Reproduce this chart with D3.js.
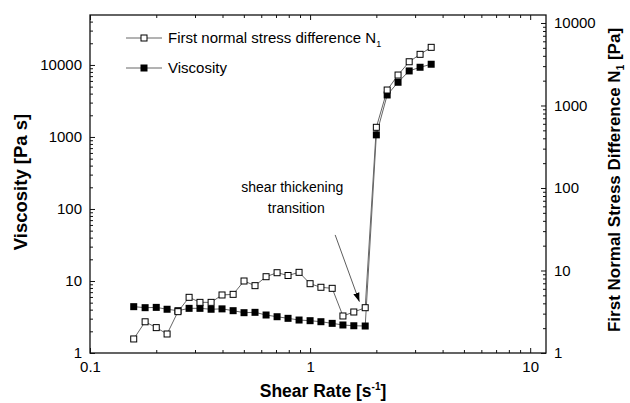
<!DOCTYPE html>
<html>
<head>
<meta charset="utf-8">
<script src="https://cdn.jsdelivr.net/npm/d3@7"></script>
<style>
  body { margin: 0; background: #fff; }
  svg text { font-family: "Liberation Sans", Arial, sans-serif; fill: #000; }
</style>
</head>
<body>
<svg id="chart" width="630" height="403"></svg>
<script>
// Shear rate [1/s] of each measured point
const shearRate = [0.158, 0.178, 0.2, 0.224, 0.251, 0.282, 0.316, 0.355, 0.398, 0.447,
  0.501, 0.562, 0.631, 0.708, 0.794, 0.891, 1.0, 1.12, 1.26, 1.41,
  1.58, 1.78, 2.0, 2.24, 2.51, 2.82, 3.16, 3.55];

// Viscosity [Pa s], left axis
const viscosity = [4.4, 4.26, 4.3, 4.05, 3.87, 4.17, 4.17, 4.05, 4.1, 3.87,
  3.63, 3.67, 3.37, 3.19, 3.03, 2.87, 2.81, 2.72, 2.58, 2.45,
  2.39, 2.37, 1070, 3830, 5750, 8260, 9290, 10230];

// First normal stress difference N1 [Pa], right axis
const normalStress = [1.48, 2.39, 2.03, 1.7, 3.17, 4.73, 4.11, 4.11, 5.05, 5.14,
  7.46, 6.55, 8.41, 9.4, 8.7, 9.5, 6.92, 6.26, 6.08, 2.81,
  3.14, 3.54, 544, 1540, 2340, 3390, 4170, 5070];

const svg = d3.select('#chart');
const plotL = 90, plotR = 546, plotT = 15, plotB = 353;

const x = d3.scaleLog().domain([0.1, 11.8]).range([plotL, plotR]);
const yL = d3.scaleLog().domain([1, 49400]).range([plotB, plotT]);
const yR = d3.scaleLog().domain([1, 12500]).range([plotB, plotT]);

const isMajor = d => Math.abs(Math.log10(d) - Math.round(Math.log10(d))) < 1e-6;

// draws an axis with inward ticks, long for decades, short for the rest
function drawAxis(axisFn, scale, transform, labels, sign) {
  const ax = axisFn(scale)
    .tickValues(scale.ticks())
    .tickSizeOuter(0)
    .tickSize(0)
    .tickPadding(labels ? 8 : 0)
    .tickFormat(d => (labels && isMajor(d)) ? d3.format('~g')(d) : '');
  const g = svg.append('g').attr('transform', transform).call(ax);
  g.select('.domain').remove();
  const horizontal = axisFn === d3.axisBottom || axisFn === d3.axisTop;
  g.selectAll('.tick line')
    .attr(horizontal ? 'y2' : 'x2', d => sign * (isMajor(d) ? 5 : 3))
    .attr('stroke', '#111')
    .attr('stroke-width', 1);
  g.selectAll('.tick text').attr('font-size', 15).attr('font-family', '"Liberation Sans", Arial, sans-serif');
  return g;
}

drawAxis(d3.axisBottom, x, `translate(0,${plotB})`, true, -1);
drawAxis(d3.axisTop, x, `translate(0,${plotT})`, false, 1);
drawAxis(d3.axisLeft, yL, `translate(${plotL},0)`, true, 1);
drawAxis(d3.axisRight, yR, `translate(${plotR},0)`, true, -1);

// frame
svg.append('rect')
  .attr('x', plotL).attr('y', plotT)
  .attr('width', plotR - plotL).attr('height', plotB - plotT)
  .attr('fill', 'none').attr('stroke', '#111').attr('stroke-width', 1.3);

// series
const pts = shearRate.map((s, i) => ({ s, v: viscosity[i], n: normalStress[i] }));

const lineN = d3.line().x(d => x(d.s)).y(d => yR(d.n));
const lineV = d3.line().x(d => x(d.s)).y(d => yL(d.v));

svg.append('path').datum(pts).attr('d', lineN)
  .attr('fill', 'none').attr('stroke', '#666').attr('stroke-width', 1);
svg.append('path').datum(pts).attr('d', lineV)
  .attr('fill', 'none').attr('stroke', '#666').attr('stroke-width', 1);

const sq = 7;
svg.append('g').selectAll('rect')
  .data(pts).enter().append('rect')
  .attr('x', d => x(d.s) - sq / 2)
  .attr('y', d => yL(d.v) - sq / 2)
  .attr('width', sq).attr('height', sq)
  .attr('fill', '#000');

svg.append('g').selectAll('rect')
  .data(pts).enter().append('rect')
  .attr('x', d => x(d.s) - sq / 2 + 0.5)
  .attr('y', d => yR(d.n) - sq / 2 + 0.5)
  .attr('width', sq - 1).attr('height', sq - 1)
  .attr('fill', '#fff').attr('stroke', '#000').attr('stroke-width', 1);

// legend
const legend = [
  { label: 'First normal stress difference N', sub: '1', filled: false, y: 38 },
  { label: 'Viscosity', sub: '', filled: true, y: 68 }
];
legend.forEach(l => {
  svg.append('line').attr('x1', 126).attr('x2', 162).attr('y1', l.y).attr('y2', l.y)
    .attr('stroke', '#666').attr('stroke-width', 1);
  svg.append('rect').attr('x', 144 - 3.5 + (l.filled ? 0 : 0.5)).attr('y', l.y - 3.5 + (l.filled ? 0 : 0.5))
    .attr('width', l.filled ? 7 : 6).attr('height', l.filled ? 7 : 6)
    .attr('fill', l.filled ? '#000' : '#fff').attr('stroke', l.filled ? 'none' : '#000');
  const t = svg.append('text').attr('x', 168).attr('y', l.y + 5).attr('font-size', 15).text(l.label);
  if (l.sub) t.append('tspan').attr('font-size', 9).attr('dy', 4).text(l.sub);
});

// annotation
const ann = { tx: 0.83, ty1: 172, ty2: 88, ax1: 1.3, ay1: 43.6, ax2: 1.675, ay2: 5.16 };
svg.append('text').attr('x', x(ann.tx)).attr('y', yL(ann.ty1)).attr('text-anchor', 'middle')
  .attr('font-size', 14).text('shear thickening');
svg.append('text').attr('x', x(ann.tx) + 4).attr('y', yL(ann.ty2)).attr('text-anchor', 'middle')
  .attr('font-size', 14).text('transition');

svg.append('defs').append('marker')
  .attr('id', 'arrow').attr('viewBox', '0 0 10 10').attr('refX', 10).attr('refY', 5)
  .attr('markerWidth', 9).attr('markerHeight', 9).attr('markerUnits', 'userSpaceOnUse')
  .attr('orient', 'auto')
  .append('path').attr('d', 'M0,1.5 L10,5 L0,8.5 Z').attr('fill', '#000');
svg.append('line')
  .attr('x1', x(ann.ax1)).attr('y1', yL(ann.ay1))
  .attr('x2', x(ann.ax2)).attr('y2', yL(ann.ay2))
  .attr('stroke', '#333').attr('stroke-width', 0.8).attr('marker-end', 'url(#arrow)');

// axis titles
svg.append('text')
  .attr('transform', `translate(27,${(plotT + plotB) / 2 - 2}) rotate(-90)`)
  .attr('text-anchor', 'middle').attr('font-size', 18.5).attr('font-weight', 'bold')
  .text('Viscosity [Pa s]');

const xt = svg.append('text')
  .attr('x', (plotL + plotR) / 2 + 5).attr('y', 397)
  .attr('text-anchor', 'middle').attr('font-size', 17.5).attr('font-weight', 'bold')
  .text('Shear Rate [s');
xt.append('tspan').attr('font-size', 10).attr('dy', -7).text('-1');
xt.append('tspan').attr('dy', 7).text(']');

const rt = svg.append('text')
  .attr('transform', `translate(620,${(plotT + plotB) / 2 - 4}) rotate(-90)`)
  .attr('text-anchor', 'middle').attr('font-size', 17).attr('font-weight', 'bold')
  .text('First Normal Stress Difference N');
rt.append('tspan').attr('font-size', 10).attr('dy', 4).text('1');
rt.append('tspan').attr('dy', -4).text(' [Pa]');
</script>
</body>
</html>
